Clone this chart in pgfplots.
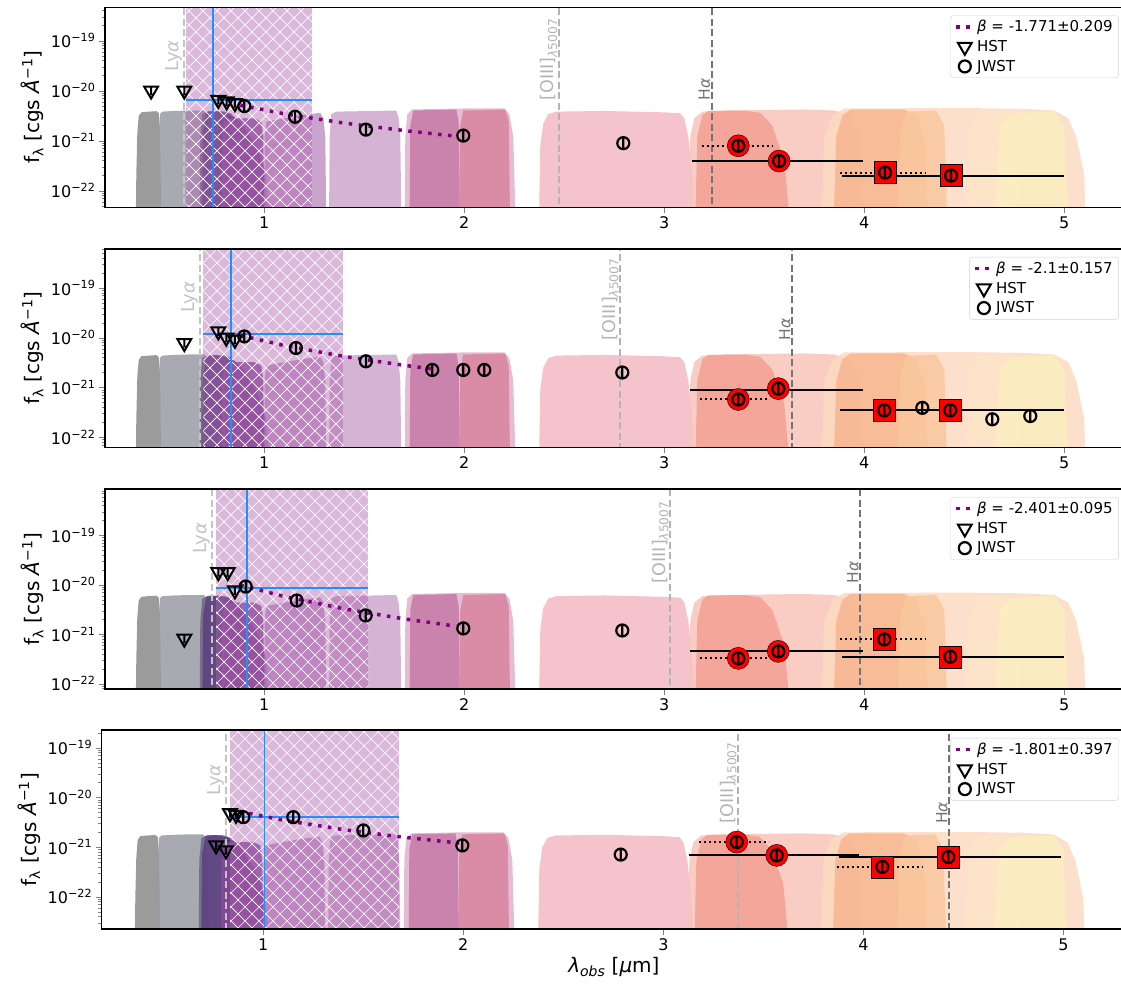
\documentclass[border=0pt]{standalone}
\usepackage{fontspec}
\setmainfont{DejaVu Sans}
\usepackage{pgfplots}
\pgfplotsset{compat=1.18}
\usepackage{pgfplotstable}
\usetikzlibrary{patterns}

\definecolor{cF435}{HTML}{8A8A8A}
\definecolor{cF606}{HTML}{9A9BA3}
\definecolor{cF775}{HTML}{6E6688}
\definecolor{cF814}{HTML}{5C3F80}
\definecolor{cF850}{HTML}{552879}
\definecolor{cF090}{HTML}{884B9C}
\definecolor{cF115}{HTML}{C194C4}
\definecolor{cF150}{HTML}{CCA6CE}
\definecolor{cF200}{HTML}{E0B0CB}
\definecolor{cF182}{HTML}{C679A7}
\definecolor{cF210}{HTML}{D8849F}
\definecolor{cF277}{HTML}{F2B8C2}
\definecolor{cF356}{HTML}{F9C4BA}
\definecolor{cF335}{HTML}{F3A092}
\definecolor{cF444}{HTML}{FDDAC2}
\definecolor{cF410}{HTML}{F8B690}
\definecolor{cF430}{HTML}{F9C79E}
\definecolor{cF460}{HTML}{FDE5CA}
\definecolor{cF480}{HTML}{FBEEC0}
\definecolor{regcol}{HTML}{B060B0}
\definecolor{bluec}{HTML}{1E90FF}
\definecolor{lyacol}{HTML}{C4C4C4}
\definecolor{oiiicol}{HTML}{B4B4B4}
\definecolor{hacol}{HTML}{747474}
\definecolor{betapurple}{HTML}{800080}

\pgfdeclarepatternformonly{bigx}{\pgfqpoint{-1pt}{-1pt}}{\pgfqpoint{15pt}{15pt}}{\pgfqpoint{14pt}{14pt}}{%
  \pgfsetlinewidth{0.7pt}%
  \pgfpathmoveto{\pgfqpoint{0pt}{0pt}}\pgfpathlineto{\pgfqpoint{14pt}{14pt}}%
  \pgfpathmoveto{\pgfqpoint{0pt}{14pt}}\pgfpathlineto{\pgfqpoint{14pt}{0pt}}%
  \pgfusepath{stroke}}

\pgfplotstableread{
x t
0.355 0.001
0.360 0.05
0.365 0.35
0.372 0.78
0.385 0.92
0.42 0.95
0.46 0.97
0.472 0.9
0.478 0.4
0.482 0.05
0.485 0.001
}\tFa
\pgfplotstableread{
x t
0.468 0.001
0.472 0.3
0.478 0.85
0.49 0.95
0.55 0.98
0.62 1.0
0.70 1.0
0.715 0.8
0.725 0.3
0.732 0.001
}\tFb
\pgfplotstableread{
x t
0.675 0.001
0.68 0.3
0.69 0.85
0.72 0.97
0.80 0.96
0.84 0.85
0.855 0.4
0.865 0.001
}\tFc
\pgfplotstableread{
x t
0.688 0.001
0.694 0.4
0.71 0.92
0.76 0.97
0.82 0.88
0.88 0.6
0.92 0.35
0.95 0.1
0.965 0.001
}\tFd
\pgfplotstableread{
x t
0.80 0.001
0.805 0.3
0.82 0.8
0.85 0.75
0.90 0.45
0.95 0.22
0.98 0.12
1.01 0.05
1.045 0.001
}\tFe
\pgfplotstableread{
x t
0.785 0.001
0.79 0.3
0.80 0.6
0.82 0.7
0.95 0.7
0.985 0.6
0.995 0.3
1.002 0.001
}\tFf
\pgfplotstableread{
x t
0.998 0.001
1.002 0.3
1.01 0.6
1.1 0.7
1.2 0.82
1.28 0.9
1.295 0.7
1.305 0.3
1.312 0.001
}\tFg
\pgfplotstableread{
x t
1.322 0.001
1.327 0.3
1.335 0.85
1.36 0.95
1.55 0.98
1.66 1.0
1.672 0.7
1.68 0.3
1.688 0.001
}\tFh
\pgfplotstableread{
x t
1.70 0.001
1.705 0.3
1.715 0.85
1.74 1.05
2.0 1.1
2.2 1.1
2.225 0.85
2.245 0.3
2.262 0.001
}\tFi
\pgfplotstableread{
x t
1.725 0.001
1.73 0.5
1.745 1.0
1.96 1.05
1.972 0.6
1.98 0.001
}\tFj
\pgfplotstableread{
x t
1.972 0.001
1.98 0.5
1.995 1.0
2.205 1.05
2.222 0.6
2.232 0.001
}\tFk
\pgfplotstableread{
x t
2.37 0.001
2.38 0.2
2.395 0.55
2.42 0.85
2.46 0.95
2.7 0.98
3.0 0.92
3.08 0.88
3.1 0.7
3.12 0.3
3.14 0.05
3.16 0.001
}\tFl
\pgfplotstableread{
x t
3.12 0.001
3.13 0.3
3.15 0.7
3.19 0.95
3.3 1.0
3.7 1.05
3.85 1.0
3.93 0.8
3.97 0.4
3.99 0.1
4.0 0.001
}\tFm
\pgfplotstableread{
x t
3.15 0.001
3.165 0.3
3.19 0.8
3.22 0.98
3.4 1.0
3.48 0.9
3.54 0.5
3.6 0.1
3.645 0.001
}\tFn
\pgfplotstableread{
x t
3.78 0.001
3.8 0.3
3.84 0.8
3.9 1.1
4.5 1.12
4.8 1.08
4.95 1.0
5.02 0.7
5.06 0.3
5.1 0.05
5.11 0.001
}\tFo
\pgfplotstableread{
x t
3.84 0.001
3.86 0.3
3.89 0.8
3.93 1.05
4.2 1.05
4.26 0.8
4.3 0.3
4.33 0.001
}\tFp
\pgfplotstableread{
x t
4.16 0.001
4.18 0.4
4.21 0.95
4.36 1.0
4.4 0.5
4.42 0.001
}\tFq
\pgfplotstableread{
x t
4.5 0.001
4.53 0.5
4.57 0.95
4.72 0.95
4.76 0.4
4.78 0.001
}\tFr
\pgfplotstableread{
x t
4.64 0.001
4.68 0.5
4.74 0.9
4.95 0.95
5.0 0.5
5.03 0.001
}\tFs

\pgfdeclareplotmark{cbar}{%
  \pgfpathcircle{\pgfpointorigin}{\pgfplotmarksize}%
  \pgfpathmoveto{\pgfpoint{0pt}{-\pgfplotmarksize}}%
  \pgfpathlineto{\pgfpoint{0pt}{\pgfplotmarksize}}%
  \pgfusepathqstroke}
\pgfdeclareplotmark{tbar}{%
  \pgfpathmoveto{\pgfqpointpolar{-90}{\pgfplotmarksize}}%
  \pgfpathlineto{\pgfqpointpolar{30}{\pgfplotmarksize}}%
  \pgfpathlineto{\pgfqpointpolar{150}{\pgfplotmarksize}}%
  \pgfpathclose
  \pgfpathmoveto{\pgfpoint{0pt}{-0.55\pgfplotmarksize}}%
  \pgfpathlineto{\pgfpoint{0pt}{0.45\pgfplotmarksize}}%
  \pgfusepathqstroke}
\pgfdeclareplotmark{tdown}{%
  \pgfpathmoveto{\pgfqpointpolar{-90}{\pgfplotmarksize}}%
  \pgfpathlineto{\pgfqpointpolar{30}{\pgfplotmarksize}}%
  \pgfpathlineto{\pgfqpointpolar{150}{\pgfplotmarksize}}%
  \pgfpathclose
  \pgfusepathqstroke}

\tikzset{vlab/.style={rotate=90, anchor=south west, inner sep=1.5pt}}

\pgfplotsset{
  filt/.style={draw=none, fill=#1, fill opacity=0.85, forget plot},
  vline/.style={forget plot, line width=1.8pt, dash pattern=on 7pt off 3.5pt},
  blueln/.style={forget plot, bluec, line width=1.6pt},
  dotl/.style={forget plot, black, line width=2pt, dash pattern=on 2pt off 3pt},
  soll/.style={forget plot, black, line width=2pt},
  redc/.style={forget plot, only marks, mark=*, mark size=11pt, mark options={draw=none, fill=red}},
  reds/.style={forget plot, only marks, mark=square*, mark size=11pt, mark options={draw=none, fill=red}},
  betaline/.style={betapurple, line width=3.5pt, dash pattern=on 3.5pt off 6.5pt},
  hstm/.style={forget plot, only marks, mark=tbar, mark size=8pt, mark options={black, line width=2pt}},
  jwstm/.style={forget plot, only marks, mark=cbar, mark size=6pt, mark options={black, line width=2.2pt}},
}

\newcommand{\filters}[1]{%
  \addplot[filt=cF435] table[x=x,y expr=\thisrow{t}*#1]{\tFa};
  \addplot[filt=cF606] table[x=x,y expr=\thisrow{t}*#1]{\tFb};
  \addplot[filt=cF775] table[x=x,y expr=\thisrow{t}*#1]{\tFc};
  \addplot[filt=cF814] table[x=x,y expr=\thisrow{t}*#1]{\tFd};
  \addplot[filt=cF850] table[x=x,y expr=\thisrow{t}*#1]{\tFe};
  \addplot[filt=cF090] table[x=x,y expr=\thisrow{t}*#1]{\tFf};
  \addplot[filt=cF115] table[x=x,y expr=\thisrow{t}*#1]{\tFg};
  \addplot[filt=cF150] table[x=x,y expr=\thisrow{t}*#1]{\tFh};
  \addplot[filt=cF200] table[x=x,y expr=\thisrow{t}*#1]{\tFi};
  \addplot[filt=cF182] table[x=x,y expr=\thisrow{t}*#1]{\tFj};
  \addplot[filt=cF210] table[x=x,y expr=\thisrow{t}*#1]{\tFk};
  \addplot[filt=cF277] table[x=x,y expr=\thisrow{t}*#1]{\tFl};
  \addplot[filt=cF356] table[x=x,y expr=\thisrow{t}*#1]{\tFm};
  \addplot[filt=cF335] table[x=x,y expr=\thisrow{t}*#1]{\tFn};
  \addplot[filt=cF444] table[x=x,y expr=\thisrow{t}*#1]{\tFo};
  \addplot[filt=cF410] table[x=x,y expr=\thisrow{t}*#1]{\tFp};
  \addplot[filt=cF430] table[x=x,y expr=\thisrow{t}*#1]{\tFq};
  \addplot[filt=cF460] table[x=x,y expr=\thisrow{t}*#1]{\tFr};
  \addplot[filt=cF480] table[x=x,y expr=\thisrow{t}*#1]{\tFs};
}
\newcommand{\regionbox}[2]{%
  \addplot[draw=none, fill=regcol, fill opacity=0.45, forget plot] coordinates {(#1,1e-25) (#1,1e-16) (#2,1e-16) (#2,1e-25)};
  \addplot[draw=none, pattern=bigx, pattern color=white, fill opacity=0.25, forget plot] coordinates {(#1,1e-25) (#1,1e-16) (#2,1e-16) (#2,1e-25)};
}
\newcommand{\emlines}[3]{%
  \addplot[vline, lyacol] coordinates {(#1,1e-25) (#1,1e-16)};
  \addplot[vline, oiiicol] coordinates {(#2,1e-25) (#2,1e-16)};
  \addplot[vline, hacol] coordinates {(#3,1e-25) (#3,1e-16)};
}
\newcommand{\legendimgs}{%
  \addlegendimage{betaline}
  \addlegendimage{only marks, black, mark=tdown, mark size=8pt, mark options={black, line width=2pt}}
  \addlegendimage{only marks, black, mark=o, mark size=6pt, mark options={black, line width=2.2pt}}
}
\newcommand{\lyatext}{{\fontsize{18}{21}\selectfont Ly\textit{α}}}
\newcommand{\oiiitext}{{\fontsize{17.5}{20}\selectfont [OIII]\textsubscript{\textit{λ}5007}}}
\newcommand{\hatext}{{\fontsize{15.5}{18}\selectfont H\textit{α}}}

\begin{document}
\begin{tikzpicture}
\path[use as bounding box] (0pt,0pt) rectangle (1121pt,984pt);

% ---------------- Panel 1 ----------------
\begin{semilogyaxis}[scale only axis, axis on top,
    at={(105pt,776.7pt)}, anchor=south west, width=1021pt, height=200pt,
    xmin=0.2035, xmax=5.3085, ymin=4.64e-23, ymax=4.64e-19,
    xtick={1,2,3,4,5}, xticklabels={1,2,3,4,5},
    ytick={1e-22,1e-21,1e-20,1e-19},
    yticklabels={10\textsuperscript{−22},10\textsuperscript{−21},10\textsuperscript{−20},10\textsuperscript{−19}},
    minor ytick={2e-23,3e-23,4e-23,5e-23,6e-23,7e-23,8e-23,9e-23,2e-22,3e-22,4e-22,5e-22,6e-22,7e-22,8e-22,9e-22,2e-21,3e-21,4e-21,5e-21,6e-21,7e-21,8e-21,9e-21,2e-20,3e-20,4e-20,5e-20,6e-20,7e-20,8e-20,9e-20,2e-19,3e-19,4e-19,5e-19,6e-19,7e-19,8e-19,9e-19},
    tick align=outside, xtick pos=left, ytick pos=left,
    major tick length=6pt, minor tick length=3.5pt,
    axis line style={line width=1.4pt},
    tick label style={font=\fontsize{16}{19}\selectfont},
    ylabel={f\textsubscript{λ} [cgs \textit{Å}\textsuperscript{−1}]},
    label style={font=\fontsize{20}{24}\selectfont},
    legend cell align=left,
    legend style={at={(0.993,0.96)}, anchor=north east, draw=black!18, rounded corners=3pt, row sep=3pt, inner xsep=4pt, inner ysep=3pt, font=\fontsize{15}{18}\selectfont}]
\filters{4e-21}
\regionbox{0.61}{1.237}
\addplot[blueln] coordinates {(0.742,1e-25) (0.742,1e-16)};
\addplot[blueln] coordinates {(0.61,6.5e-21) (1.237,6.5e-21)};
\emlines{0.597}{2.474}{3.237}
\node[vlab, text=lyacol] at (axis cs:0.597,2.26e-20) {\lyatext};
\node[vlab, text=oiiicol] at (axis cs:2.474,5.9e-21) {\oiiitext};
\node[vlab, text=hacol] at (axis cs:3.237,5.9e-21) {\hatext};
\addplot[dotl] coordinates {(3.187,7.9e-22) (3.54,7.9e-22)};
\addplot[dotl] coordinates {(3.88,2.3e-22) (4.31,2.3e-22)};
\addplot[redc] coordinates {(3.37,7.9e-22) (3.574,3.9e-22)};
\addplot[reds] coordinates {(4.104,2.3e-22) (4.434,2.0e-22)};
\addplot[soll] coordinates {(3.14,3.9e-22) (3.995,3.9e-22)};
\addplot[soll] coordinates {(3.887,2.0e-22) (5.0,2.0e-22)};
\addplot[betaline, forget plot] coordinates {(0.88,5.1e-21) (1.1,3.44e-21) (1.4,2.24e-21) (1.7,1.59e-21) (1.96,1.22e-21)};
\addplot[hstm] coordinates {(0.434,1.0e-20) (0.600,1.0e-20) (0.77,6.5e-21) (0.812,6.1e-21) (0.853,5.6e-21)};
\addplot[jwstm] coordinates {(0.90,4.9e-21) (1.154,3.0e-21) (1.508,1.66e-21) (1.995,1.26e-21) (2.795,8.9e-22) (3.37,7.9e-22) (3.574,3.9e-22) (4.104,2.3e-22) (4.434,2.0e-22)};
\legendimgs
\legend{\textit{β} = -1.771±0.209, HST, JWST}
\end{semilogyaxis}

% ---------------- Panel 2 ----------------
\begin{semilogyaxis}[scale only axis, axis on top,
    at={(105pt,536.7pt)}, anchor=south west, width=1021pt, height=198.3pt,
    xmin=0.2035, xmax=5.3085, ymin=6.3e-23, ymax=6.03e-19,
    xtick={1,2,3,4,5}, xticklabels={1,2,3,4,5},
    ytick={1e-22,1e-21,1e-20,1e-19},
    yticklabels={10\textsuperscript{−22},10\textsuperscript{−21},10\textsuperscript{−20},10\textsuperscript{−19}},
    minor ytick={2e-23,3e-23,4e-23,5e-23,6e-23,7e-23,8e-23,9e-23,2e-22,3e-22,4e-22,5e-22,6e-22,7e-22,8e-22,9e-22,2e-21,3e-21,4e-21,5e-21,6e-21,7e-21,8e-21,9e-21,2e-20,3e-20,4e-20,5e-20,6e-20,7e-20,8e-20,9e-20,2e-19,3e-19,4e-19,5e-19,6e-19,7e-19,8e-19,9e-19},
    tick align=outside, xtick pos=left, ytick pos=left,
    major tick length=6pt, minor tick length=3.5pt,
    axis line style={line width=1.4pt},
    tick label style={font=\fontsize{16}{19}\selectfont},
    ylabel={f\textsubscript{λ} [cgs \textit{Å}\textsuperscript{−1}]},
    label style={font=\fontsize{20}{24}\selectfont},
    legend cell align=left,
    legend style={at={(0.993,0.96)}, anchor=north east, draw=black!18, rounded corners=3pt, row sep=3pt, inner xsep=4pt, inner ysep=3pt, font=\fontsize{15}{18}\selectfont}]
\filters{4.6e-21}
\regionbox{0.695}{1.395}
\addplot[blueln] coordinates {(0.834,1e-25) (0.834,1e-16)};
\addplot[blueln] coordinates {(0.695,1.2e-20) (1.395,1.2e-20)};
\emlines{0.679}{2.78}{3.64}
\node[vlab, text=lyacol] at (axis cs:0.679,2.9e-20) {\lyatext};
\node[vlab, text=oiiicol] at (axis cs:2.78,8.3e-21) {\oiiitext};
\node[vlab, text=hacol] at (axis cs:3.64,8.3e-21) {\hatext};
\addplot[dotl] coordinates {(3.18,5.75e-22) (3.52,5.75e-22)};
\addplot[dotl] coordinates {(3.88,3.47e-22) (4.31,3.47e-22)};
\addplot[redc] coordinates {(3.37,5.75e-22) (3.57,9.5e-22)};
\addplot[reds] coordinates {(4.10,3.47e-22) (4.43,3.47e-22)};
\addplot[soll] coordinates {(3.13,9.1e-22) (3.995,9.1e-22)};
\addplot[soll] coordinates {(3.88,3.47e-22) (5.0,3.47e-22)};
\addplot[betaline, forget plot] coordinates {(0.88,1.11e-20) (1.1,6.96e-21) (1.4,4.19e-21) (1.7,2.79e-21) (1.84,2.36e-21)};
\addplot[hstm] coordinates {(0.60,7.8e-21) (0.77,1.34e-20) (0.81,1.0e-20) (0.853,9.1e-21)};
\addplot[jwstm] coordinates {(0.90,1.06e-20) (1.158,6.2e-21) (1.508,3.36e-21) (1.84,2.25e-21) (1.995,2.25e-21) (2.10,2.25e-21) (2.79,2.0e-21) (3.37,5.75e-22) (3.57,9.5e-22) (4.10,3.47e-22) (4.29,3.9e-22) (4.43,3.47e-22) (4.64,2.3e-22) (4.83,2.67e-22)};
\legendimgs
\legend{\textit{β} = -2.1±0.157, HST, JWST}
\end{semilogyaxis}

% ---------------- Panel 3 ----------------
\begin{semilogyaxis}[scale only axis, axis on top,
    at={(105pt,295pt)}, anchor=south west, width=1021pt, height=200pt,
    xmin=0.2035, xmax=5.3085, ymin=7.8e-23, ymax=8.63e-19,
    xtick={1,2,3,4,5}, xticklabels={1,2,3,4,5},
    ytick={1e-22,1e-21,1e-20,1e-19},
    yticklabels={10\textsuperscript{−22},10\textsuperscript{−21},10\textsuperscript{−20},10\textsuperscript{−19}},
    minor ytick={2e-23,3e-23,4e-23,5e-23,6e-23,7e-23,8e-23,9e-23,2e-22,3e-22,4e-22,5e-22,6e-22,7e-22,8e-22,9e-22,2e-21,3e-21,4e-21,5e-21,6e-21,7e-21,8e-21,9e-21,2e-20,3e-20,4e-20,5e-20,6e-20,7e-20,8e-20,9e-20,2e-19,3e-19,4e-19,5e-19,6e-19,7e-19,8e-19,9e-19},
    tick align=outside, xtick pos=left, ytick pos=left,
    major tick length=6pt, minor tick length=3.5pt,
    axis line style={line width=1.4pt},
    tick label style={font=\fontsize{16}{19}\selectfont},
    ylabel={f\textsubscript{λ} [cgs \textit{Å}\textsuperscript{−1}]},
    label style={font=\fontsize{20}{24}\selectfont},
    legend cell align=left,
    legend style={at={(0.993,0.96)}, anchor=north east, draw=black!18, rounded corners=3pt, row sep=3pt, inner xsep=4pt, inner ysep=3pt, font=\fontsize{15}{18}\selectfont}]
\filters{6.2e-21}
\regionbox{0.759}{1.52}
\addplot[blueln] coordinates {(0.912,1e-25) (0.912,1e-16)};
\addplot[blueln] coordinates {(0.759,8.5e-21) (1.52,8.5e-21)};
\emlines{0.737}{3.03}{3.98}
\node[vlab, text=lyacol] at (axis cs:0.737,3.9e-20) {\lyatext};
\node[vlab, text=oiiicol] at (axis cs:3.03,1.0e-20) {\oiiitext};
\node[vlab, text=hacol] at (axis cs:3.98,1.0e-20) {\hatext};
\addplot[dotl] coordinates {(3.18,3.25e-22) (3.53,3.25e-22)};
\addplot[dotl] coordinates {(3.88,7.85e-22) (4.31,7.85e-22)};
\addplot[redc] coordinates {(3.37,3.25e-22) (3.57,4.5e-22)};
\addplot[reds] coordinates {(4.10,7.85e-22) (4.43,3.5e-22)};
\addplot[soll] coordinates {(3.13,4.5e-22) (3.995,4.5e-22)};
\addplot[soll] coordinates {(3.89,3.5e-22) (5.0,3.5e-22)};
\addplot[betaline, forget plot] coordinates {(0.88,9.9e-21) (1.1,5.79e-21) (1.4,3.25e-21) (1.7,2.04e-21) (1.96,1.45e-21)};
\addplot[hstm] coordinates {(0.60,8.1e-22) (0.77,1.8e-20) (0.817,1.8e-20) (0.853,7.7e-21)};
\addplot[jwstm] coordinates {(0.907,9.2e-21) (1.162,4.8e-21) (1.507,2.4e-21) (1.995,1.31e-21) (2.79,1.19e-21) (3.37,3.25e-22) (3.57,4.5e-22) (4.10,7.85e-22) (4.43,3.5e-22)};
\legendimgs
\legend{\textit{β} = -2.401±0.095, HST, JWST}
\end{semilogyaxis}

% ---------------- Panel 4 ----------------
\begin{semilogyaxis}[scale only axis, axis on top,
    at={(101.7pt,55pt)}, anchor=south west, width=1024.3pt, height=199pt,
    xmin=0.192, xmax=5.3135, ymin=2.24e-23, ymax=2.27e-19,
    xtick={1,2,3,4,5}, xticklabels={1,2,3,4,5},
    ytick={1e-22,1e-21,1e-20,1e-19},
    yticklabels={10\textsuperscript{−22},10\textsuperscript{−21},10\textsuperscript{−20},10\textsuperscript{−19}},
    minor ytick={2e-23,3e-23,4e-23,5e-23,6e-23,7e-23,8e-23,9e-23,2e-22,3e-22,4e-22,5e-22,6e-22,7e-22,8e-22,9e-22,2e-21,3e-21,4e-21,5e-21,6e-21,7e-21,8e-21,9e-21,2e-20,3e-20,4e-20,5e-20,6e-20,7e-20,8e-20,9e-20,2e-19,3e-19,4e-19,5e-19,6e-19,7e-19,8e-19,9e-19},
    tick align=outside, xtick pos=left, ytick pos=left,
    major tick length=6pt, minor tick length=3.5pt,
    axis line style={line width=1.4pt},
    tick label style={font=\fontsize{16}{19}\selectfont},
    ylabel={f\textsubscript{λ} [cgs \textit{Å}\textsuperscript{−1}]},
    xlabel={\textit{λ}\textsubscript{\textit{obs}} [\textit{µ}m]},
    label style={font=\fontsize{20}{24}\selectfont},
    legend cell align=left,
    legend style={at={(0.993,0.96)}, anchor=north east, draw=black!18, rounded corners=3pt, row sep=3pt, inner xsep=4pt, inner ysep=3pt, font=\fontsize{15}{18}\selectfont}]
\filters{1.8e-21}
\regionbox{0.8335}{1.68}
\addplot[blueln] coordinates {(1.005,1e-25) (1.005,1e-16)};
\addplot[blueln] coordinates {(0.8335,4.0e-21) (1.68,4.0e-21)};
\emlines{0.813}{3.375}{4.43}
\node[vlab, text=lyacol] at (axis cs:0.813,1.03e-20) {\lyatext};
\node[vlab, text=oiiicol] at (axis cs:3.375,2.7e-21) {\oiiitext};
\node[vlab, text=hacol] at (axis cs:4.43,2.7e-21) {\hatext};
\addplot[dotl] coordinates {(3.18,1.26e-21) (3.53,1.26e-21)};
\addplot[dotl] coordinates {(3.867,4.0e-22) (4.3,4.0e-22)};
\addplot[redc] coordinates {(3.367,1.26e-21) (3.567,6.8e-22)};
\addplot[reds] coordinates {(4.095,4.0e-22) (4.425,6.3e-22)};
\addplot[soll] coordinates {(3.13,6.8e-22) (3.98,6.8e-22)};
\addplot[soll] coordinates {(3.88,6.3e-22) (4.99,6.3e-22)};
\addplot[betaline, forget plot] coordinates {(0.88,5.19e-21) (1.1,3.47e-21) (1.4,2.25e-21) (1.7,1.58e-21) (1.98,1.2e-21)};
\addplot[hstm] coordinates {(0.764,1.08e-21) (0.813,8.6e-22) (0.8335,4.8e-21) (0.8635,4.45e-21)};
\addplot[jwstm] coordinates {(0.90,4.0e-21) (1.15,4.0e-21) (1.50,2.16e-21) (1.995,1.08e-21) (2.787,7.05e-22) (3.367,1.26e-21) (3.567,6.8e-22) (4.095,4.0e-22) (4.425,6.3e-22)};
\legendimgs
\legend{\textit{β} = -1.801±0.397, HST, JWST}
\end{semilogyaxis}
\end{tikzpicture}
\end{document}
